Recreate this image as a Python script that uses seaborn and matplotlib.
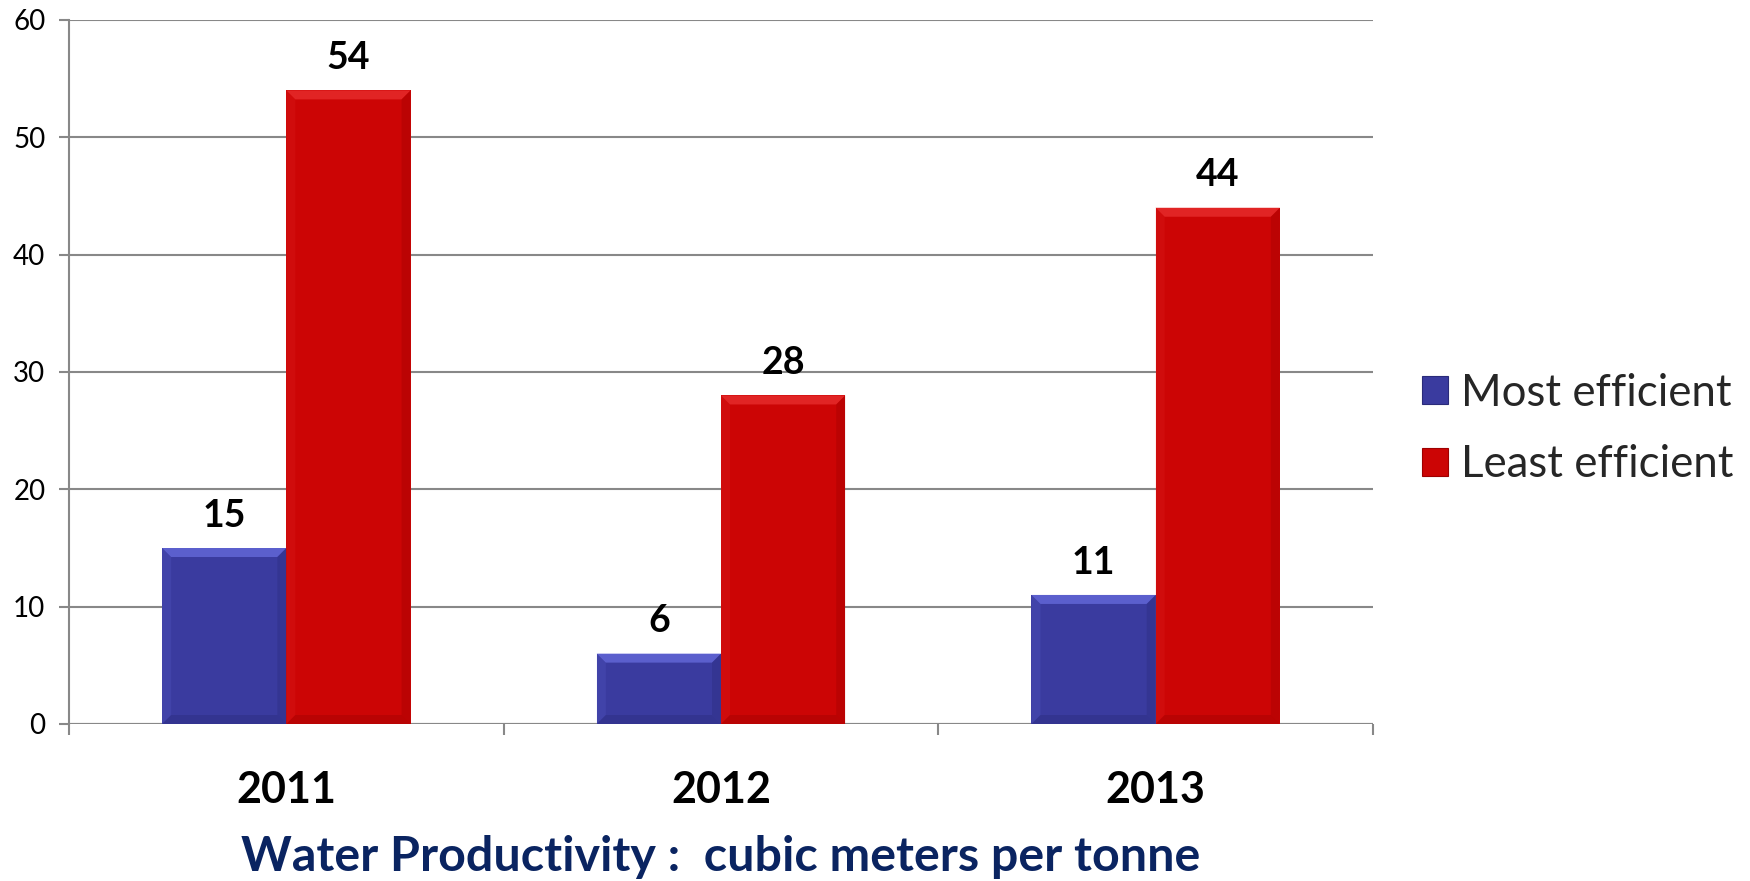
import matplotlib
matplotlib.use("Agg")
import matplotlib.pyplot as plt
import seaborn as sns
import pandas as pd
from matplotlib.patches import Patch, Polygon
from matplotlib.ticker import FixedLocator

years = ["2011", "2012", "2013"]
series = ["Most efficient", "Least efficient"]
most_efficient = [15, 6, 11]
least_efficient = [54, 28, 44]
colors = {"Most efficient": "#3A3B9F", "Least efficient": "#CC0505"}
light = {"Most efficient": "#6266D6", "Least efficient": "#E52A2A"}
dark = {"Most efficient": "#2A2B7A", "Least efficient": "#9E0000"}
title = "Water Productivity :  cubic meters per tonne"

df = pd.DataFrame({
    "year": years * 2,
    "series": [series[0]] * 3 + [series[1]] * 3,
    "value": most_efficient + least_efficient,
})

sns.set_theme(style="white")
plt.rcParams["font.family"] = ["Lato", "DejaVu Sans"]

W, H, DPI = 1750, 881, 100
fig = plt.figure(figsize=(W / DPI, H / DPI), dpi=DPI)
ax = fig.add_axes([69 / W, 1 - 724 / H, (1373 - 69) / W, (724 - 20) / H])

sns.barplot(data=df, x="year", y="value", hue="series", hue_order=series,
            order=years, palette=colors, width=4 / 7, gap=0, dodge=True,
            saturation=1, edgecolor="none", linewidth=0, ax=ax, legend=False,
            zorder=3)

ax.set_xlim(-0.5, 2.5)
ax.set_ylim(0, 60)
ax.set_yticks(range(0, 61, 10))
grid_color = "#888888"
ax.yaxis.grid(True, color=grid_color, linewidth=1.5, zorder=0)
ax.xaxis.grid(False)
for side in ["top", "right", "bottom"]:
    ax.spines[side].set_visible(False)
ax.spines["left"].set_color(grid_color)
ax.spines["left"].set_linewidth(1.5)
ax.axhline(0, color=grid_color, linewidth=1.5, zorder=2)

ax.tick_params(axis="y", which="major", left=True, length=7, width=1.5,
               color=grid_color, pad=10, labelsize=20, labelcolor="black")
ax.tick_params(axis="x", which="major", bottom=False, length=0, pad=33,
               labelsize=31, labelcolor="black")
ax.xaxis.set_minor_locator(FixedLocator([-0.5, 0.5, 1.5, 2.5]))
ax.tick_params(axis="x", which="minor", bottom=True, length=8, width=1.5,
               color=grid_color)
for lbl in ax.get_xticklabels():
    lbl.set_fontweight("bold")

ax.set_ylabel("")
ax.set_xlabel(title, fontsize=34.8, fontweight="bold", color="#0A2461",
              labelpad=18)

# value labels above every bar
for cont in ax.containers:
    ax.bar_label(cont, fmt="%d", padding=11, fontsize=27, fontweight="bold",
                 color="black")

# bevelled faces on the bars
fig.canvas.draw()
px_x = (ax.transData.transform((1, 0))[0] - ax.transData.transform((0, 0))[0])
px_y = (ax.transData.transform((0, 1))[1] - ax.transData.transform((0, 0))[1])
bev = 9
bx, by = bev / px_x, bev / px_y
for cont, name in zip(ax.containers, series):
    for p in cont.patches:
        x0, y0 = p.get_x(), p.get_y()
        x1, y1 = x0 + p.get_width(), y0 + p.get_height()
        faces = [
            ([(x0, y1), (x1, y1), (x1 - bx, y1 - by), (x0 + bx, y1 - by)], light[name], 0.85),
            ([(x0, y0), (x0, y1), (x0 + bx, y1 - by), (x0 + bx, y0 + by)], light[name], 0.2),
            ([(x1, y0), (x1, y1), (x1 - bx, y1 - by), (x1 - bx, y0 + by)], dark[name], 0.35),
            ([(x0, y0), (x1, y0), (x1 - bx, y0 + by), (x0 + bx, y0 + by)], dark[name], 0.4),
        ]
        for pts, c, a in faces:
            ax.add_patch(Polygon(pts, closed=True, facecolor=c, edgecolor="none",
                                 alpha=a, zorder=4))

handles = [Patch(facecolor=colors[s], edgecolor=dark[s], linewidth=0.8) for s in series]
fig.legend(handles, series, loc="center left",
           bbox_to_anchor=(1422 / W, 1 - 429 / H), frameon=False, fontsize=31.5,
           handlelength=0.6, handleheight=0.6, handletextpad=0.3,
           labelspacing=0.7, borderaxespad=0, borderpad=0)

fig.savefig("out.png", dpi=DPI, facecolor="white")
